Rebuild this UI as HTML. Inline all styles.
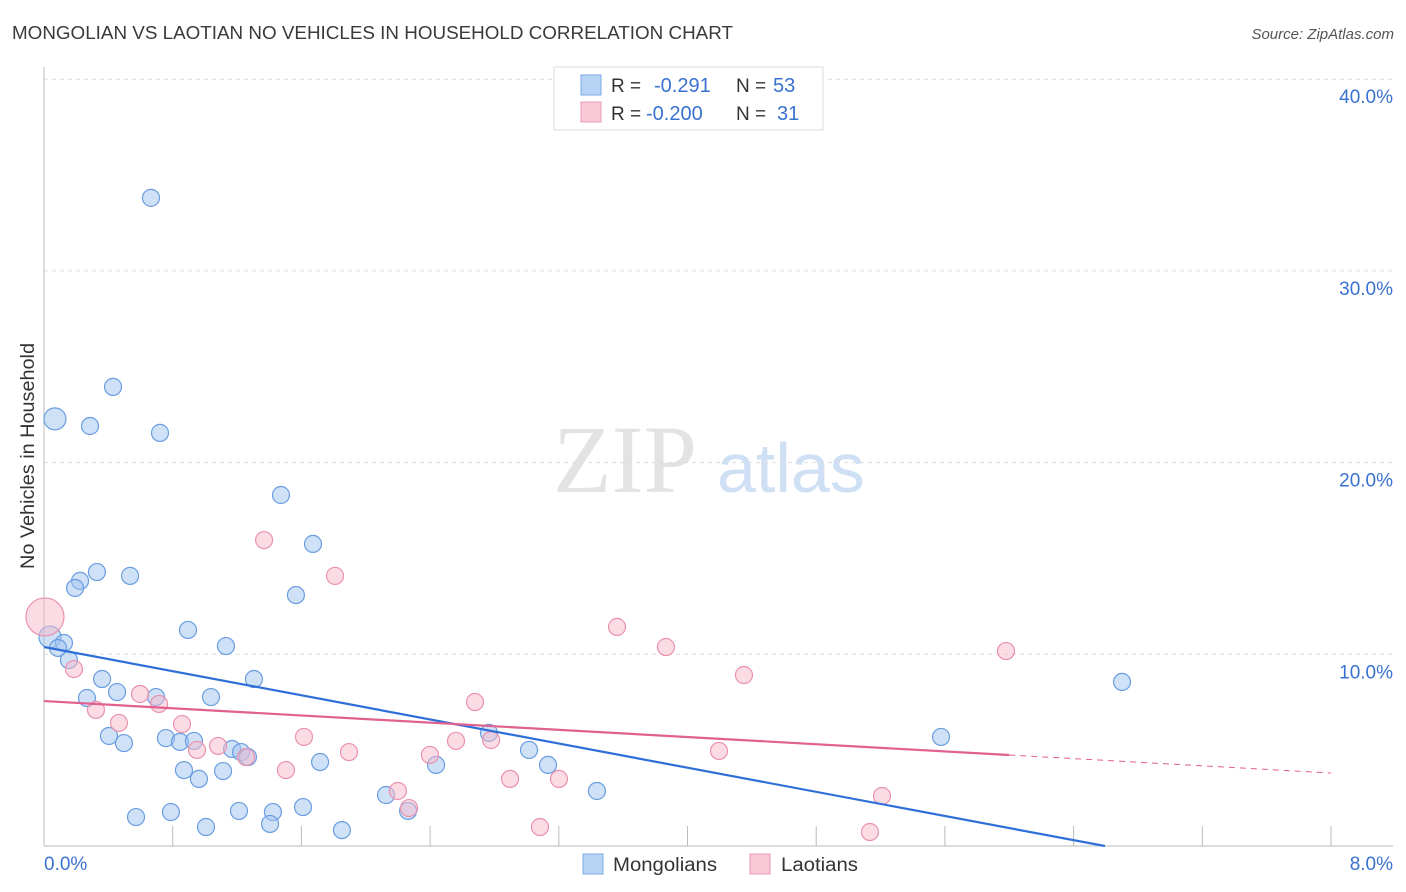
<!DOCTYPE html>
<html><head><meta charset="utf-8"><style>
body{margin:0;background:#fff;font-family:"Liberation Sans",sans-serif}
svg{display:block}
</style></head><body>
<svg id="chart" width="1406" height="892" xmlns="http://www.w3.org/2000/svg">
<text x="12" y="39" font-size="18" fill="#3a3a3a" textLength="721" lengthAdjust="spacingAndGlyphs">MONGOLIAN VS LAOTIAN NO VEHICLES IN HOUSEHOLD CORRELATION CHART</text>
<text x="1394" y="39" font-size="15" fill="#555" font-style="italic" text-anchor="end">Source: ZipAtlas.com</text>
<text transform="translate(34,456) rotate(-90)" font-size="19" fill="#333" text-anchor="middle" textLength="226" lengthAdjust="spacingAndGlyphs">No Vehicles in Household</text>
<g>
<text x="553" y="492" font-family="Liberation Serif,serif" font-size="96" fill="#e3e3e3">ZIP</text>
<text x="717" y="492" font-size="70" fill="#cfe0f5">atlas</text>
</g>
<g id="grid"></g>
<g id="axes"></g>
<g id="marks"></g>
<g>
<rect x="554" y="67" width="269" height="63" fill="#fff" stroke="#ddd"/>
<rect x="581" y="75" width="20" height="20" fill="#b9d3f5" stroke="#7aa8e6"/>
<rect x="581" y="102" width="20" height="20" fill="#f9c9d6" stroke="#ec9ab3"/>
<text x="611" y="92" font-size="19" fill="#333">R = </text><text x="654" y="92" font-size="20" fill="#3a72d0">-0.291</text>
<text x="736" y="92" font-size="19" fill="#333">N =</text><text x="773" y="92" font-size="20" fill="#3a72d0">53</text>
<text x="611" y="120" font-size="19" fill="#333">R = </text><text x="646" y="120" font-size="20" fill="#3a72d0">-0.200</text>
<text x="736" y="120" font-size="19" fill="#333">N =</text><text x="777" y="120" font-size="20" fill="#3a72d0">31</text>
</g>
<g>
<rect x="583" y="854" width="20" height="20" fill="#b9d3f5" stroke="#7aa8e6"/>
<text x="613" y="871" font-size="19" fill="#333" textLength="104" lengthAdjust="spacingAndGlyphs">Mongolians</text>
<rect x="750" y="854" width="20" height="20" fill="#f9c9d6" stroke="#ec9ab3"/>
<text x="781" y="871" font-size="19" fill="#333" textLength="77" lengthAdjust="spacingAndGlyphs">Laotians</text>
</g>
</svg>
<script>
const yTicks=[10,20,30,40];
const yTickLabels=["10.0%","20.0%","30.0%","40.0%"];
const xTickVals=[0.8,1.6,2.4,3.2,4.0,4.8,5.6,6.4,7.2,8.0];
const mongX=[0.665,0.068,0.286,0.721,0.429,1.473,1.672,0.329,0.224,0.193,0.535,1.566,0.895,1.131,0.037,0.124,0.087,0.155,1.305,0.361,0.454,0.267,0.696,1.038,0.404,0.497,0.758,0.845,0.932,1.169,1.225,1.268,1.716,0.870,1.113,0.963,2.437,2.766,3.015,3.133,5.576,6.701,3.437,2.126,2.263,1.610,1.423,1.212,0.789,0.572,1.007,1.405,1.852];
const mongY=[33.81,22.28,21.91,21.55,23.95,18.31,15.76,14.29,13.83,13.46,14.09,13.09,11.27,10.43,10.90,10.59,10.33,9.70,8.71,8.71,8.03,7.72,7.77,7.77,5.74,5.37,5.63,5.43,5.48,5.06,4.90,4.64,4.38,3.96,3.91,3.50,4.23,5.90,5.01,4.23,5.69,8.56,2.87,2.66,1.83,2.03,1.77,1.83,1.77,1.51,0.99,1.15,0.83];
const laoX=[0.006,0.186,0.323,0.466,0.597,0.715,0.858,0.951,1.082,1.256,1.368,1.809,1.504,1.616,1.896,2.200,2.269,2.399,2.561,2.679,2.779,2.897,3.201,3.083,3.562,3.866,4.196,4.351,5.209,5.134,5.980];
const laoY=[11.95,9.23,7.10,6.42,7.93,7.41,6.36,5.01,5.22,4.64,15.96,14.09,3.96,5.69,4.90,2.87,1.98,4.75,5.48,7.51,5.53,3.50,3.50,0.99,11.43,10.38,4.96,8.92,2.61,0.73,10.17];
const mongTrend=[10.38,-1.574];
const laoTrend=[7.56,-0.469];
const X=v=>44+v/8*1287, Y=v=>846-v*19.17;
const NS="http://www.w3.org/2000/svg";
function mk(t,a,p){const e=document.createElementNS(NS,t);for(const k in a)e.setAttribute(k,a[k]);p.appendChild(e);return e;}
const grid=document.getElementById('grid'),axes=document.getElementById('axes'),marks=document.getElementById('marks');
yTicks.forEach((v,i)=>{
 const l=mk('line',{x1:44,x2:1393,y1:Y(v),y2:Y(v),stroke:'#ddd','stroke-dasharray':'4,4'},grid);
 
 
 const t=mk('text',{x:1393,y:Y(v)+24,'font-size':19,fill:'#3a72d0','text-anchor':'end'},axes);
 t.textContent=yTickLabels[i];
 
 
});
let a=mk('line',{x1:44,x2:44,y1:67,y2:846,stroke:'#bbb'},axes);


a=mk('line',{x1:44,x2:1393,y1:846,y2:846,stroke:'#bbb'},axes);


xTickVals.forEach(v=>{
 const l=mk('line',{x1:X(v),x2:X(v),y1:826,y2:846,stroke:'#bbb'},axes);
 
 
});
let t=mk('text',{x:44,y:870,'font-size':19,fill:'#3a72d0'},axes);t.textContent='0.0%';


t=mk('text',{x:1393,y:870,'font-size':19,fill:'#3a72d0','text-anchor':'end'},axes);t.textContent='8.0%';


mongX.forEach((x,i)=>{
 const r=(i===1||i===14)?11:8.5;
 const c=mk('circle',{cx:X(x),cy:Y(mongY[i]),r:r,fill:'rgba(160,196,240,0.5)',stroke:'#6a9de0','stroke-width':1.2},marks);
 
 
});
laoX.forEach((x,i)=>{
 const r=i===0?19:8.5;
 const c=mk('circle',{cx:X(x),cy:Y(laoY[i]),r:r,fill:'rgba(247,186,204,0.5)',stroke:'#ea92ad','stroke-width':1.2},marks);
 
 
});
const mEnd=-mongTrend[0]/mongTrend[1];
let ln=mk('line',{x1:X(0),y1:Y(mongTrend[0]),x2:X(mEnd),y2:Y(0),stroke:'#2e6fd8','stroke-width':2.2},marks);


ln=mk('line',{x1:X(0),y1:Y(laoTrend[0]),x2:X(6),y2:Y(laoTrend[0]+laoTrend[1]*6),stroke:'#e0608f','stroke-width':2.2},marks);


ln=mk('line',{x1:X(6),y1:Y(laoTrend[0]+laoTrend[1]*6),x2:X(8),y2:Y(laoTrend[0]+laoTrend[1]*8),stroke:'#e0608f','stroke-width':1,'stroke-dasharray':'6,5'},marks);


</script>
</body></html>
